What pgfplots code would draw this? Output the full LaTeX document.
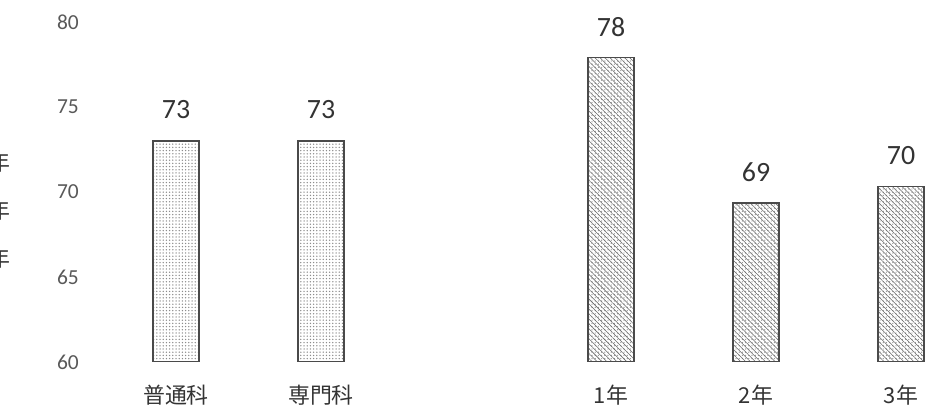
\documentclass[border=0pt]{standalone}
\usepackage{fontspec}
\setmainfont{Carlito}
\newfontfamily\cjk{Noto Sans CJK JP}
\usepackage{pgfplots}
\pgfplotsset{compat=1.18}
\usetikzlibrary{patterns.meta}

\definecolor{txt}{HTML}{333333}
\definecolor{tick}{HTML}{595959}
\definecolor{edge}{HTML}{4A4A4A}

\begin{document}
\begin{tikzpicture}
\useasboundingbox (0,0) rectangle (940bp,413bp);
\begin{axis}[
  at={(67.25bp,51bp)}, anchor=south west,
  scale only axis, width=870bp, height=340bp,
  xmin=-0.75, xmax=5.25,
  ymin=60, ymax=80,
  ytick={60,65,70,75,80},
  xtick={0,1,3,4,5},
  xticklabels={普通科,専門科,1年,2年,3年},
  axis line style={draw=none},
  major tick length=0pt,
  /pgf/number format/assume math mode=true,
  yticklabel style={font=\fontsize{21.5}{21.5}\selectfont, text=tick,
    anchor=east, inner sep=0pt, xshift=11.75bp},
  xticklabel style={font=\cjk\fontsize{22}{22}\selectfont, text=txt,
    anchor=center, inner sep=0pt, yshift=-33bp},
  nodes near coords={\pgfmathprintnumber[fixed,precision=0]{\pgfplotspointmeta}},
  every node near coord/.append style={font=\fontsize{28}{28}\selectfont,
    text=txt, anchor=center, inner sep=0pt, yshift=31bp},
]
% 学科別
\addplot[ybar, bar width=46bp, bar shift=0pt, draw=edge, line width=1.1bp,
  pattern={Dots[distance=3.2bp, radius=0.75bp]}, pattern color=black!45]
  coordinates {(0,73) (1,73)};
% 学年別
\addplot[ybar, bar width=46bp, bar shift=0pt, draw=edge, line width=1.1bp,
  pattern={Dots[distance=3.2bp, radius=0.7bp]}, pattern color=black!40,
  postaction={pattern={Lines[angle=-45, distance=3.5bp, line width=0.55bp]},
    pattern color=black!60}]
  coordinates {(3,77.9) (4,69.35) (5,70.3)};
\end{axis}
% 切れた凡例の文字
\foreach \yy in {251,203,155}
  \node[anchor=east, inner sep=0pt, text=txt, font=\cjk\fontsize{22}{22}\selectfont]
    at (11bp,\yy bp) {年};
\end{tikzpicture}
\end{document}
